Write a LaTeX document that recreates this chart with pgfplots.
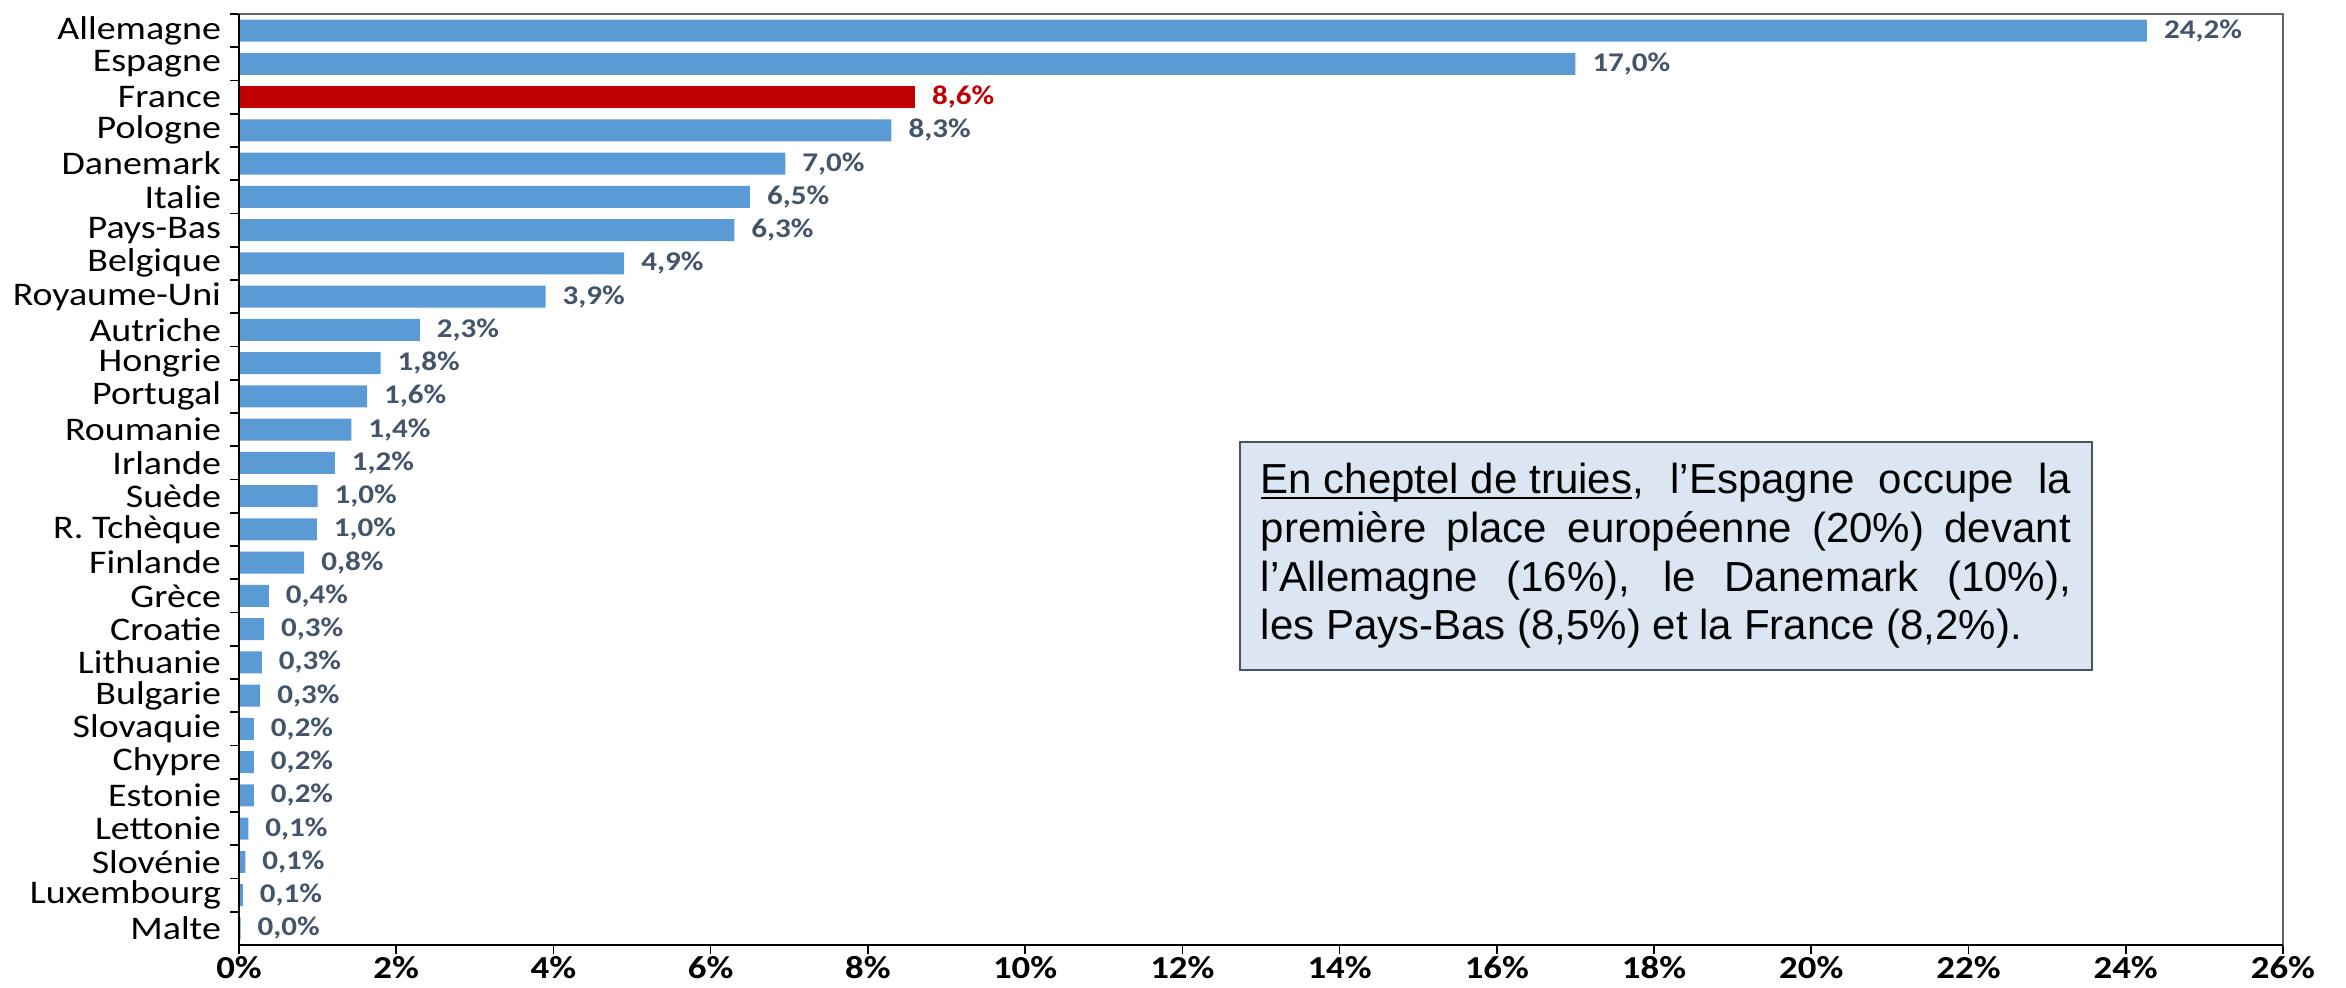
\documentclass[border=0pt]{standalone}
\usepackage{pgfplots}
\pgfplotsset{compat=1.18}
\usepackage{pgfplotstable}
\usepackage{fontspec}
\setmainfont{Carlito}[FakeStretch=1.15]
\newfontfamily\boxfont{Liberation Sans}
\newcommand{\myul}[1]{\setbox0\hbox{#1}\rlap{\rule[-2.6pt]{\wd0}{1.2pt}}\box0}

\definecolor{barblue}{HTML}{5B9BD5}
\definecolor{frred}{HTML}{C00000}
\definecolor{lblgray}{HTML}{44546A}
\definecolor{boxfill}{HTML}{DCE6F2}
\definecolor{boxdraw}{HTML}{4A5563}

\pgfplotstableread{
y val lab
0 24.27 24,2
1 17.0 17,0
3 8.3 8,3
4 6.95 7,0
5 6.5 6,5
6 6.3 6,3
7 4.9 4,9
8 3.9 3,9
9 2.3 2,3
10 1.8 1,8
11 1.63 1,6
12 1.43 1,4
13 1.22 1,2
14 1.0 1,0
15 0.99 1,0
16 0.83 0,8
17 0.38 0,4
18 0.32 0,3
19 0.29 0,3
20 0.27 0,3
21 0.19 0,2
22 0.19 0,2
23 0.19 0,2
24 0.12 0,1
25 0.08 0,1
26 0.05 0,1
27 0.02 0,0
}\bluedata

\pgfplotstableread{
y val lab
2 8.6 8,6
}\reddata

\begin{document}
\begin{tikzpicture}
\path[use as bounding box] (-119.5pt,-21.5pt) rectangle (1053.5pt,472.5pt);
\begin{axis}[
  at={(0,0)}, anchor=south west,
  scale only axis, width=1022pt, height=465.5pt,
  y dir=reverse,
  xmin=0, xmax=26, ymin=-0.5, ymax=27.5,
  xtick={0,2,...,26},
  xticklabels={\textbf{0\%},\textbf{2\%},\textbf{4\%},\textbf{6\%},\textbf{8\%},\textbf{10\%},\textbf{12\%},\textbf{14\%},\textbf{16\%},\textbf{18\%},\textbf{20\%},\textbf{22\%},\textbf{24\%},\textbf{26\%}},
  ytick={-0.5,0.5,...,26.5},
  yticklabels={Allemagne,Espagne,France,Pologne,Danemark,Italie,Pays-Bas,Belgique,Royaume-Uni,Autriche,Hongrie,Portugal,Roumanie,Irlande,Suède,R. Tchèque,Finlande,Grèce,Croatie,Lithuanie,Bulgarie,Slovaquie,Chypre,Estonie,Lettonie,Slovénie,Luxembourg,Malte},
  xtick pos=bottom, ytick pos=left,
  tick style={draw=black, line width=0.8pt},
  tick align=outside,
  major tick length=4.5pt,
  yticklabel style={font=\fontsize{16.5}{18}\selectfont, yshift=-8.31pt, xshift=-1pt},
  xticklabel style={font=\fontsize{16}{17}\selectfont, yshift=2.5pt},
  axis line style={draw=gray!80!black, line width=0.8pt},
  bar width=0.66,
  nodes near coords={\pgfplotspointmeta\%},
  point meta=explicit symbolic,
  every node near coord/.append style={font=\bfseries\fontsize{13.5}{15}\selectfont, anchor=west, xshift=5pt},
  clip=false,
]
\addplot[xbar, fill=barblue, draw=none, bar shift=0pt,
  every node near coord/.append style={text=lblgray}]
  table[x=val, y=y, meta=lab] {\bluedata};
\addplot[xbar, fill=frred, draw=none, bar shift=0pt,
  every node near coord/.append style={text=frred}]
  table[x=val, y=y, meta=lab] {\reddata};
\draw[black, line width=0.8pt] (axis description cs:0,1) -- (axis description cs:0,0) -- (axis description cs:1,0);
\node[anchor=north west, draw=boxdraw, line width=1pt, fill=boxfill,
  minimum width=426pt, minimum height=114pt, inner xsep=10.5pt, inner ysep=6pt, align=left,
  font=\boxfont\fontsize{21}{24.3}\selectfont]
  at (axis description cs:0.4892,0.5414)
  {\makebox[405pt][s]{\myul{En cheptel de truies}, l’Espagne occupe la}\\
   \makebox[405pt][s]{première place européenne (20\%) devant}\\
   \makebox[405pt][s]{l’Allemagne (16\%), le Danemark (10\%),}\\
   \makebox[405pt][l]{les Pays-Bas (8,5\%) et la France (8,2\%).}};
\end{axis}
\end{tikzpicture}
\end{document}
